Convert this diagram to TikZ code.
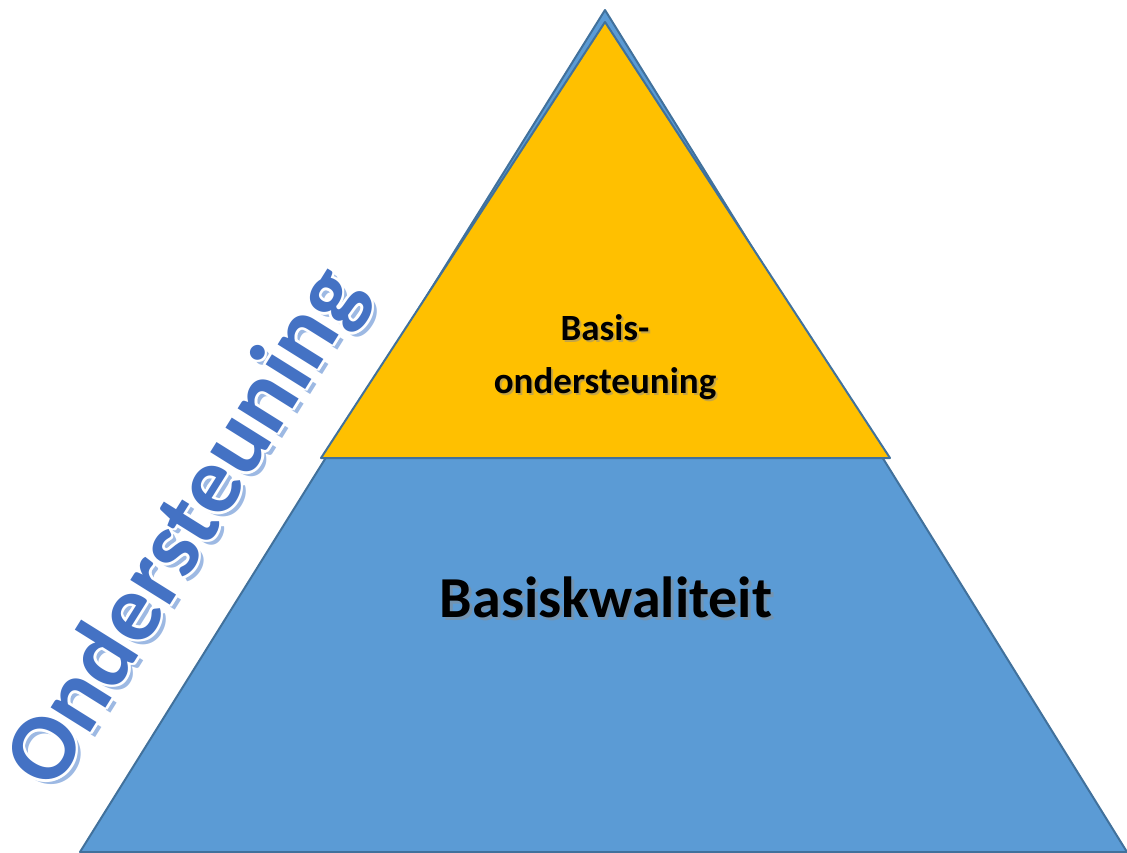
\documentclass[tikz,border=0pt]{standalone}
\usepackage{fontspec}
\setmainfont{Carlito}
\usepackage{tikz}
\definecolor{basisblue}{HTML}{5B9BD5}
\definecolor{edgeblue}{HTML}{41719C}
\definecolor{basisyellow}{HTML}{FFC000}
\definecolor{wordblue}{HTML}{4472C4}
\definecolor{shadeblue}{HTML}{9DB9E3}
\tikzstyle{layer} = [draw=edgeblue,line width=2pt,line join=round]
\tikzstyle{label} = [font=\bfseries,text=black,align=center]
\tikzstyle{sidetext} = [font=\bfseries\fontsize{96}{96}\selectfont,rotate=58]

\begin{document}
\begin{tikzpicture}[x=1pt,y=-1pt]
		\useasboundingbox (0,0) rectangle (1127,852);
		% pyramid
		\coordinate (bl) at (80,852);
		\coordinate (br) at (1127,852);
		\coordinate (top) at (605,10);
		\coordinate (yl) at (321,458);
		\coordinate (yr) at (890,458);
		\coordinate (ytop) at (605,22);
		\draw[layer,fill=basisblue](bl)--(top)--(br)--cycle;
		\draw[layer,fill=basisyellow](yl)--(ytop)--(yr)--cycle;
		
		% labels with soft shadow
		\node [label,font=\bfseries\fontsize{37}{53}\selectfont,text=black!45,opacity=.5] at (607,359) {Basis-\\ondersteuning};
		\node [label,font=\bfseries\fontsize{37}{53}\selectfont](top label) at (605,357){Basis-\\ondersteuning};
		\node [label,font=\bfseries\fontsize{58}{58}\selectfont,text=black!45,opacity=.5] at (609,600) {Basiskwaliteit};
		\node [label,font=\bfseries\fontsize{58}{58}\selectfont](base label) at (606,597){Basiskwaliteit};
		
		% side word: shadow, white rim, face
		\node [sidetext,text=shadeblue] at (193,534) {Ondersteuning};
		\foreach \dx/\dy in {-2.5/0,2.5/0,0/-2.5,0/2.5,-2/-2,2/2,-2/2,2/-2}
			\node [sidetext,text=white] at (188+\dx,529+\dy) {Ondersteuning};
		\node [sidetext,text=wordblue](side) at (188,529){Ondersteuning};
\end{tikzpicture}
\end{document}
